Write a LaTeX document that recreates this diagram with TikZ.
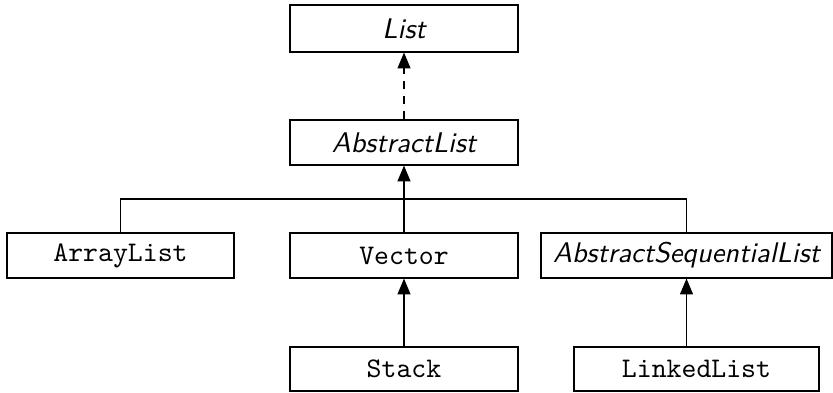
\documentclass[tikz,border=0pt]{standalone}
\usetikzlibrary{arrows.meta}
\begin{document}
\begin{tikzpicture}[x=0.3522pt,y=-0.3522pt,
  cls/.style={draw,line width=0.4pt,inner sep=0pt,minimum width=80.3pt,minimum height=15.85pt,font=\ttfamily},
  abs/.style={cls,font=\sffamily\itshape},
  inh/.style={-{Triangle[length=5.6pt,width=4.6pt]},line width=0.4pt},
  impl/.style={inh,dash pattern=on 2.8pt off 2.5pt}]
\useasboundingbox (0,0) rectangle (833,392);
\node[abs,minimum height=16.55pt] (list) at (404,28.5) {List};
\node[abs] (alist) at (404,142.5) {AbstractList};
\node[cls,minimum width=79.95pt] (arr) at (120.5,255.5) {ArrayList};
\node[cls] (vec) at (404,255.5) {Vector};
\node[abs,minimum width=102.5pt] (asl) at (686.5,255.5) {AbstractSequentialList};
\node[cls,minimum height=15.5pt] (stack) at (404,369) {Stack};
\node[cls,minimum width=86.3pt,minimum height=15.5pt] (ll) at (696.5,369) {LinkedList};
\coordinate (bus) at (404,199);
\draw[impl] (alist) -- (list);
\draw[inh] (vec.north) -- (alist.south);
\draw[line width=0.4pt] (arr.north) |- (bus) -| (asl.north);
\draw[inh] (stack) -- (vec);
\draw[inh] (asl.south |- ll.north) -- (asl.south);
\end{tikzpicture}
\end{document}
